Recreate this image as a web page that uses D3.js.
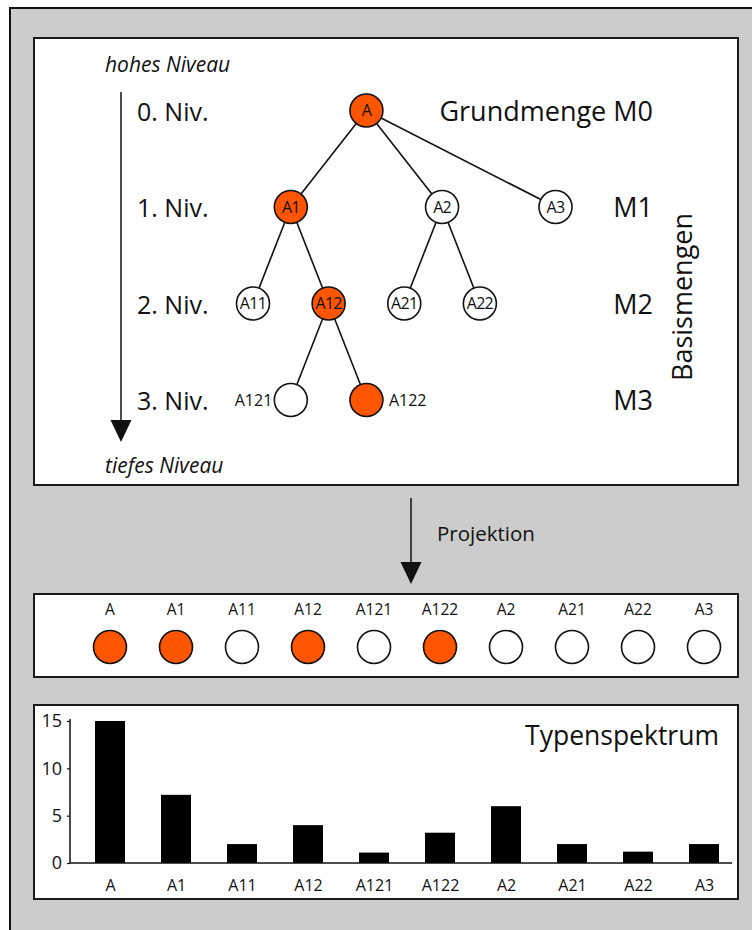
<!DOCTYPE html>
<html><head><meta charset="utf-8">
<script src="https://cdn.jsdelivr.net/npm/d3@7"></script>
<style>
body{margin:0;background:#fff}
svg{display:block}
text{font-family:"Open Sans","Noto Sans",sans-serif;fill:#111}
</style>
</head><body><svg id="c" width="752" height="930"></svg>
<script>
// ---- data ----
const nodeNames   = ["A","A1","A2","A3","A11","A12","A21","A22","A121","A122"];
const nodeParents = [null,"A","A","A","A1","A1","A2","A2","A12","A12"];
const nodeColumns = [3,1,5,8,0,2,4,6,1,3];
const markedNodes = ["A","A1","A12","A122"];
const levelLabels = ["0. Niv.","1. Niv.","2. Niv.","3. Niv."];
const setLabels   = ["Grundmenge M0","M1","M2","M3"];
const categories  = ["A","A1","A11","A12","A121","A122","A2","A21","A22","A3"];
const values      = [15,7.2,2,4,1.1,3.2,6,2,1.2,2];
const yTicks      = [0,5,10,15];

const ORANGE = "#fe5500";
const svg = d3.select("#c");

// outer frame
svg.append("rect").attr("x",10).attr("y",8).attr("width",770).attr("height",950)
  .attr("fill","#cccccc").attr("stroke","#111").attr("stroke-width",2);

function panel(x0,y0,x1,y1){
  svg.append("rect").attr("x",x0).attr("y",y0).attr("width",x1-x0).attr("height",y1-y0)
    .attr("fill","#fff").attr("stroke","#1a1a1a").attr("stroke-width",2);
}
panel(34,38,738,485);
panel(34,594,738,677);
panel(34,705,738,899);

// ---- tree ----
const nodes = nodeNames.map((n,i)=>({name:n,parent:nodeParents[i],col:nodeColumns[i]}));
const root = d3.stratify().id(d=>d.name).parentId(d=>d.parent)(nodes);
const xTree = d3.scaleLinear().domain([0,8]).range([253,555.5]);
const yLevel = d3.scaleLinear().domain([0,3]).range([110.5,400]);
const R = 16.5;

const tree = svg.append("g");
tree.selectAll("line.link").data(root.links()).join("line").attr("class","link")
  .attr("x1",d=>xTree(d.source.data.col)).attr("y1",d=>yLevel(d.source.depth))
  .attr("x2",d=>xTree(d.target.data.col)).attr("y2",d=>yLevel(d.target.depth))
  .attr("stroke","#111").attr("stroke-width",1.6);

const nd = tree.selectAll("g.node").data(root.descendants()).join("g").attr("class","node")
  .attr("transform",d=>`translate(${xTree(d.data.col)},${yLevel(d.depth)})`);
nd.append("circle").attr("r",R)
  .attr("fill",d=>markedNodes.includes(d.id)?ORANGE:"#fff")
  .attr("stroke","#111").attr("stroke-width",1.6);
nd.append("text")
  .attr("font-size",16)
  .attr("letter-spacing",d=>d.depth<3?-0.7:0)
  .attr("text-anchor",d=>{
    if(d.depth<3) return "middle";
    return d.parent.children.indexOf(d)===0?"end":"start";
  })
  .attr("x",d=>{
    if(d.depth<3) return 0;
    return d.parent.children.indexOf(d)===0?-(R+2):(R+6);
  })
  .attr("y",5.5)
  .text(d=>d.id);

// level labels
svg.selectAll("text.lvl").data(levelLabels).join("text").attr("class","lvl")
  .attr("x",137).attr("y",(d,i)=>yLevel(i)+10).attr("font-size",25).text(d=>d);
svg.selectAll("text.set").data(setLabels).join("text").attr("class","set")
  .attr("x",653).attr("y",(d,i)=>yLevel(i)+10).attr("text-anchor","end").attr("font-size",27).text(d=>d);

svg.append("text").attr("transform","translate(692,297) rotate(-90)")
  .attr("text-anchor","middle").attr("font-size",27).text("Basismengen");

// left arrow
svg.append("line").attr("x1",121).attr("x2",121).attr("y1",92).attr("y2",421)
  .attr("stroke","#111").attr("stroke-width",1.5);
svg.append("path").attr("d","M110.5,420L131.5,420L121,442Z").attr("fill","#111");
svg.append("text").attr("x",105).attr("y",72).attr("font-size",21).attr("font-style","italic").text("hohes Niveau");
svg.append("text").attr("x",105).attr("y",473).attr("font-size",21).attr("font-style","italic").text("tiefes Niveau");

// projection arrow
svg.append("line").attr("x1",411).attr("x2",411).attr("y1",498).attr("y2",563)
  .attr("stroke","#111").attr("stroke-width",1.5);
svg.append("path").attr("d","M400.5,562L421.5,562L411,584Z").attr("fill","#111");
svg.append("text").attr("x",437).attr("y",541).attr("font-size",20.5).text("Projektion");

// ---- projection row ----
const xPoint = d3.scalePoint().domain(categories).range([110,704]);
svg.selectAll("text.proj").data(categories).join("text").attr("class","proj")
  .attr("x",d=>xPoint(d)).attr("y",615).attr("text-anchor","middle").attr("font-size",15.5).text(d=>d);
svg.selectAll("circle.proj").data(categories).join("circle").attr("class","proj")
  .attr("cx",d=>xPoint(d)).attr("cy",647).attr("r",R)
  .attr("fill",d=>markedNodes.includes(d)?ORANGE:"#fff")
  .attr("stroke","#111").attr("stroke-width",1.6);

// ---- bar chart ----
const y = d3.scaleLinear().domain([0,15]).range([863,721]);
const BW = 30;
svg.selectAll("rect.bar").data(categories).join("rect").attr("class","bar")
  .attr("x",d=>xPoint(d)-BW/2).attr("width",BW)
  .attr("y",(d,i)=>y(values[i])).attr("height",(d,i)=>y(0)-y(values[i]))
  .attr("fill","#000");

const yAx = svg.append("g").attr("transform","translate(70,0)")
  .call(d3.axisLeft(y).tickValues(yTicks).tickSize(3).tickSizeOuter(0).tickPadding(5));
yAx.selectAll("text").attr("font-size",18).attr("font-family",null).attr("fill","#111");
yAx.select(".domain").attr("stroke","#111").attr("stroke-width",1.5).attr("d","M0,863V719");
yAx.selectAll(".tick line").attr("stroke","#111").attr("stroke-width",1.2);

svg.append("line").attr("x1",70).attr("x2",732).attr("y1",y(0)).attr("y2",y(0))
  .attr("stroke","#111").attr("stroke-width",1.5);

const xAx = svg.append("g").attr("transform",`translate(0,${y(0)})`)
  .call(d3.axisBottom(xPoint).tickSize(0).tickPadding(17));
xAx.select(".domain").remove();
xAx.selectAll("text").attr("font-size",16).attr("font-family",null).attr("fill","#111");

svg.append("text").attr("x",719).attr("y",745).attr("text-anchor","end").attr("font-size",26.5).text("Typenspektrum");
</script>
</body></html>
